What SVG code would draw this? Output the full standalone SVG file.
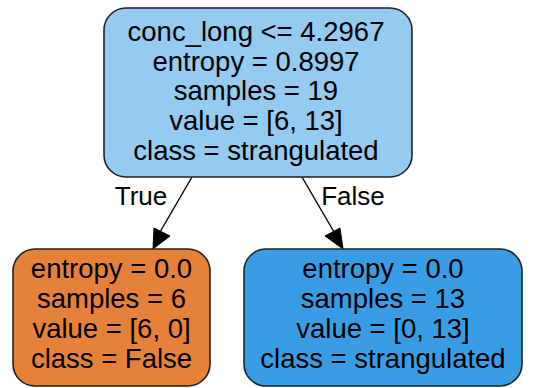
<svg xmlns="http://www.w3.org/2000/svg" width="544" height="388" viewBox="0 0 544 388">
<style>
.box{stroke:#222;stroke-width:1.6}
text{font-family:"Liberation Sans",Arial,sans-serif;font-size:27.5px;fill:#000;text-anchor:middle}
.edge{stroke:#000;stroke-width:1.4;fill:none}
.head{fill:#000;stroke:#000;stroke-width:1}
</style>
<rect width="544" height="388" fill="#fff"/>
<g id="edges">
  <g id="e0-1">
    <path class="edge" d="M192,177 L160,232"/>
    <polygon class="head" points="153,249 154,228 170,236"/>
    <text x="141" y="205" style="font-size:26px">True</text>
  </g>
  <g id="e0-2">
    <path class="edge" d="M302,177 L334,232"/>
    <polygon class="head" points="343,249 325,236 340,228"/>
    <text x="353" y="205" style="font-size:26px">False</text>
  </g>
</g>
<g id="node0">
  <rect class="box" x="104" y="8" width="308" height="169" rx="22" fill="#95caf1"/>
  <text x="256" y="41">conc_long &lt;= 4.2967</text>
  <text x="256" y="70.5">entropy = 0.8997</text>
  <text x="256" y="100">samples = 19</text>
  <text x="256" y="130">value = [6, 13]</text>
  <text x="256" y="159.5">class = strangulated</text>
</g>
<g id="node1">
  <rect class="box" x="13" y="249" width="197" height="137" rx="22" fill="#e58139"/>
  <text x="111.5" y="278">entropy = 0.0</text>
  <text x="111.5" y="308">samples = 6</text>
  <text x="111.5" y="338">value = [6, 0]</text>
  <text x="111.5" y="368">class = False</text>
</g>
<g id="node2">
  <rect class="box" x="244" y="249" width="278" height="137" rx="22" fill="#399de5"/>
  <text x="383" y="278">entropy = 0.0</text>
  <text x="383" y="308">samples = 13</text>
  <text x="383" y="338">value = [0, 13]</text>
  <text x="383" y="368">class = strangulated</text>
</g>
</svg>
